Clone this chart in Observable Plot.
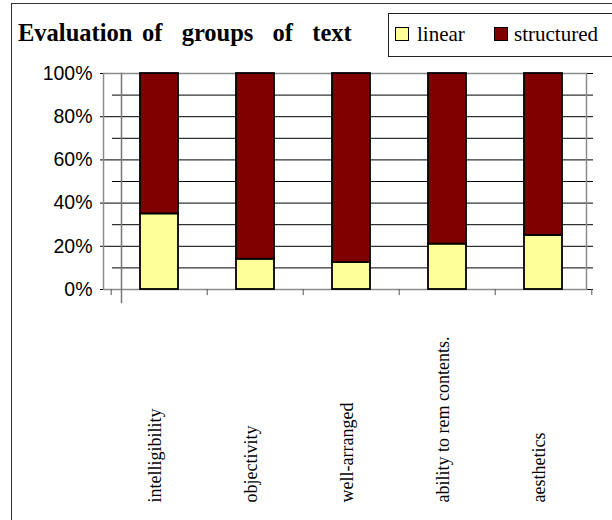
<!DOCTYPE html>
<html>
<head>
<meta charset="utf-8">
<script src="https://cdn.jsdelivr.net/npm/d3@7"></script>
<script src="https://cdn.jsdelivr.net/npm/@observablehq/plot@0.6"></script>
<style>
  html, body { margin: 0; padding: 0; background: #fff; }
  #chart { position: relative; width: 612px; height: 520px; overflow: hidden; background: #fff; }
  #border { position: absolute; left: 11px; top: 3px; width: 700px; height: 600px;
            border-left: 1px solid #333; border-top: 1px solid #333; pointer-events: none; }
  #header { position: relative; height: 60px; }
  #title { position: absolute; left: 18px; top: 18.8px; line-height: 1; white-space: pre;
           font: bold 24.5px "Liberation Serif", "Times New Roman", serif; word-spacing: 3.5px; color: #000; }
  #legend-box { position: absolute; left: 388px; top: 13px; width: 260px; height: 44px;
                box-sizing: border-box; border: 1px solid #222; }
  .swatch { position: absolute; top: 27px; width: 14px; height: 14px; box-sizing: border-box; border: 1px solid #000; }
  .legend-label { position: absolute; top: 22.4px; line-height: 1; white-space: pre;
                  font: 21px "Liberation Serif", "Times New Roman", serif; color: #000; }
  #plot svg { display: block; }
</style>
</head>
<body>
<div id="chart">
  <div id="header">
    <div id="title"></div>
    <div id="legend-box"></div>
  </div>
  <div id="plot"></div>
  <div id="border"></div>
</div>
<script>
// Rated share of each text layout, per evaluation criterion (percent)
const title = "Evaluation of  groups  of  text";
const categories = ["intelligibility", "objectivity", "well-arranged", "ability to rem contents.", "aesthetics"];
const series = ["linear", "structured"];
const linear = [35, 14, 12.5, 21, 25];
const structured = [65, 86, 87.5, 79, 75];
const yTicks = [0, 20, 40, 60, 80, 100];
const yMinorTicks = [10, 30, 50, 70, 90];
const colors = ["#FFFF99", "#800000"];

const rows = categories.flatMap((c, i) => [
  {category: c, series: series[0], value: linear[i]},
  {category: c, series: series[1], value: structured[i]}
]);

// header: title and legend
document.getElementById("title").textContent = title;
const header = document.getElementById("header");
const legendX = [{swatch: 395, label: 417}, {swatch: 494, label: 514}];
series.forEach((s, i) => {
  const sw = document.createElement("div");
  sw.className = "swatch";
  sw.style.left = legendX[i].swatch + "px";
  sw.style.background = colors[i];
  header.appendChild(sw);
  const lb = document.createElement("div");
  lb.className = "legend-label";
  lb.style.left = legendX[i].label + "px";
  lb.textContent = s;
  header.appendChild(lb);
});

const W = 612, H = 460;
const mLeft = 110, mRight = 19;
const step = (W - mLeft - mRight) / categories.length;

const chart = Plot.plot({
  width: W,
  height: H,
  marginTop: 13,
  marginBottom: 231,
  marginLeft: mLeft,
  marginRight: mRight,
  style: {background: "transparent", fontFamily: "'Liberation Sans', Arial, sans-serif", fontSize: "19.5px", color: "#000"},
  x: {domain: categories, paddingInner: 0.6, paddingOuter: 0.3, axis: null},
  y: {domain: [0, 100], axis: null},
  color: {domain: series, range: colors},
  marks: [
    Plot.ruleY(yMinorTicks, {stroke: "#000", strokeWidth: 1, insetLeft: 2}),
    Plot.ruleY(yTicks, {stroke: "#000", strokeWidth: 1, insetLeft: -10}),
    Plot.frame({stroke: "#8c8c8c", strokeWidth: 1.5, insetLeft: -7, insetRight: 7}),
    Plot.frame({anchor: "left", stroke: "#777", strokeWidth: 1.5, insetLeft: 11, insetBottom: -13}),
    // category separators below the baseline
    Plot.ruleX(categories, {x: d => d, y1: 0, y2: -2.8, dx: -step / 2, stroke: "#555"}),
    Plot.ruleX(categories.slice(-1), {x: d => d, y1: 0, y2: -2.8, dx: step / 2, stroke: "#555"}),
    Plot.barY(rows, {x: "category", y: "value", fill: "series", stroke: "#000", strokeWidth: 1.8}),
    Plot.axisY(yTicks, {tickSize: 0, tickPadding: 18, tickFormat: d => d + "%", label: null}),
    Plot.text(categories, {
      x: d => d, frameAnchor: "bottom", rotate: -90, textAnchor: "start", lineAnchor: "bottom",
      dy: 213, dx: 1, fill: "#000", fontSize: 18,
      fontFamily: "'Liberation Serif', 'Times New Roman', serif", ariaLabel: "category label"
    })
  ]
});
document.getElementById("plot").appendChild(chart);

// the category names run slightly elongated along their reading direction
chart.querySelectorAll('g[aria-label="category label"] text').forEach(t => {
  const len = t.getComputedTextLength();
  t.setAttribute("textLength", (len * 1.19).toFixed(1));
  t.setAttribute("lengthAdjust", "spacingAndGlyphs");
});
</script>
</body>
</html>
